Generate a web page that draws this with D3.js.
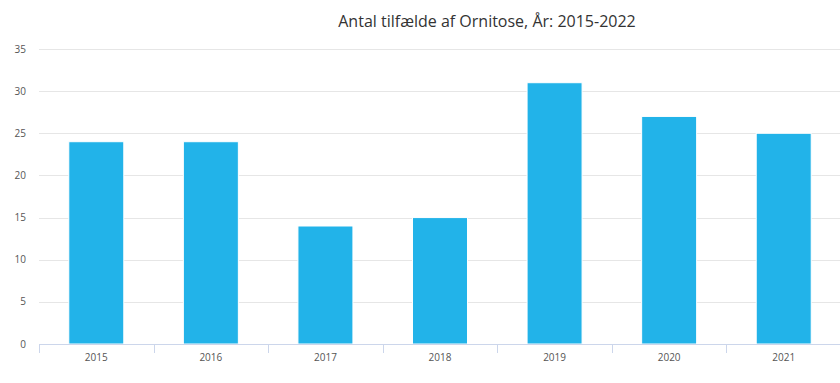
<!DOCTYPE html>
<html>
<head>
<meta charset="utf-8">
<script src="https://cdn.jsdelivr.net/npm/d3@7"></script>
<style>
  body { margin: 0; background: #fff; }
  svg { display: block; font-family: "Open Sans", "DejaVu Sans", sans-serif; }
</style>
</head>
<body>
<svg width="840" height="383"></svg>
<script>
// data
var years = ["2015", "2016", "2017", "2018", "2019", "2020", "2021"];
var cases = [24, 24, 14, 15, 31, 27, 25];
var yTicks = [0, 5, 10, 15, 20, 25, 30, 35];

var svg = d3.select("svg"),
    margin = {top: 49, right: -1, bottom: 39, left: 39},
    width = +svg.attr("width") - margin.left - margin.right,
    height = +svg.attr("height") - margin.top - margin.bottom;

var g = svg.append("g")
    .attr("transform", "translate(" + margin.left + "," + margin.top + ")");

var x = d3.scaleBand()
    .domain(years)
    .range([0, width])
    .paddingInner(0.52)
    .paddingOuter(0.26);

var y = d3.scaleLinear()
    .domain([0, 35])
    .range([height, 0]);

// gridlines
g.append("g")
    .selectAll("line")
    .data(yTicks)
    .join("line")
    .attr("x1", 0)
    .attr("x2", width)
    .attr("y1", function(d) { return Math.round(y(d)) + 0.5; })
    .attr("y2", function(d) { return Math.round(y(d)) + 0.5; })
    .style("stroke", "#e6e6e6")
    .style("stroke-width", 1);

// y labels
g.append("g")
    .selectAll("text")
    .data(yTicks)
    .join("text")
    .attr("x", -13)
    .attr("y", function(d) { return y(d); })
    .attr("dy", "0.35em")
    .attr("text-anchor", "end")
    .style("font-size", "10px")
    .style("fill", "#555")
    .text(function(d) { return d; });

// bars
g.append("g")
    .selectAll("rect")
    .data(cases)
    .join("rect")
    .attr("x", function(d, i) { return x(years[i]); })
    .attr("y", function(d) { return y(d); })
    .attr("width", x.bandwidth())
    .attr("height", function(d) { return height - y(d); })
    .style("fill", "#22b3e9")
    .style("stroke", "#fff")
    .style("stroke-width", 1);

// x axis
var step = x.step();
var xAxis = g.append("g")
    .attr("transform", "translate(0," + height + ")");

xAxis.append("line")
    .attr("x1", 0)
    .attr("x2", width)
    .attr("y1", 0.5)
    .attr("y2", 0.5)
    .style("stroke", "#ccd6eb");

xAxis.selectAll(".tick")
    .data(d3.range(years.length + 1))
    .join("line")
    .attr("class", "tick")
    .attr("x1", function(i) { return Math.round(i * step) + 0.5; })
    .attr("x2", function(i) { return Math.round(i * step) + 0.5; })
    .attr("y1", 0)
    .attr("y2", 9)
    .style("stroke", "#ccd6eb");

xAxis.selectAll("text")
    .data(years)
    .join("text")
    .attr("x", function(d) { return x(d) + x.bandwidth() / 2; })
    .attr("y", 17)
    .attr("text-anchor", "middle")
    .style("font-size", "10px")
    .style("fill", "#555")
    .text(function(d) { return d; });

// title
svg.append("text")
    .attr("x", 487)
    .attr("y", 27)
    .attr("text-anchor", "middle")
    .style("font-size", "16px")
    .style("fill", "#333")
    .text("Antal tilfælde af Ornitose, År: 2015-2022");
</script>
</body>
</html>
